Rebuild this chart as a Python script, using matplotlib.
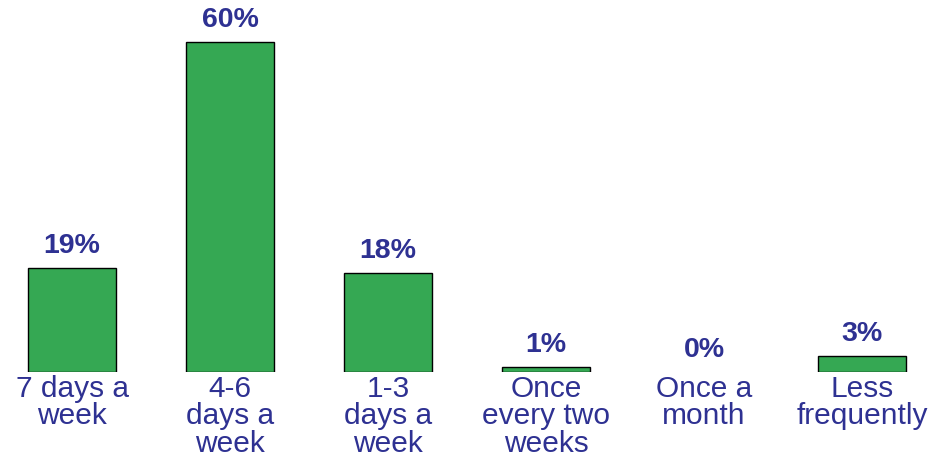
import matplotlib
matplotlib.use("Agg")
import matplotlib.pyplot as plt

# data
categories = ["7 days a\nweek", "4-6\ndays a\nweek", "1-3\ndays a\nweek",
              "Once\nevery two\nweeks", "Once a\nmonth", "Less\nfrequently"]
percent = [19, 60, 18, 1, 0, 3]
value_labels = ["19%", "60%", "18%", "1%", "0%", "3%"]

bar_green = "#35A853"
text_blue = "#2E3192"

plt.rcParams["font.family"] = ["Liberation Sans", "DejaVu Sans"]

fig = plt.figure(figsize=(9.3, 4.65), dpi=100)
ax = fig.add_axes([0, 0.2, 1, 0.8])

xs = list(range(len(percent)))
# a 0% bar is not drawn at all in the reference
edge_w = [1 if v > 0 else 0 for v in percent]
ax.bar(xs, percent, width=0.557, color=bar_green, edgecolor="black", linewidth=edge_w)

for x, v, lab in zip(xs, percent, value_labels):
    ax.annotate(lab, (x, v), xytext=(0, 10.5), textcoords="offset points",
                ha="center", va="baseline", fontsize=20.5, fontweight="bold",
                color=text_blue)

ax.set_xlim(-0.456, 5.43)
ax.set_ylim(0, 67.64)
ax.set_xticks(xs)
ax.set_xticklabels(categories, fontsize=21.5, color=text_blue, linespacing=0.98)
ax.tick_params(axis="x", length=0, pad=2)
ax.set_yticks([])
for s in ax.spines.values():
    s.set_visible(False)

fig.savefig("out.png", dpi=100)
